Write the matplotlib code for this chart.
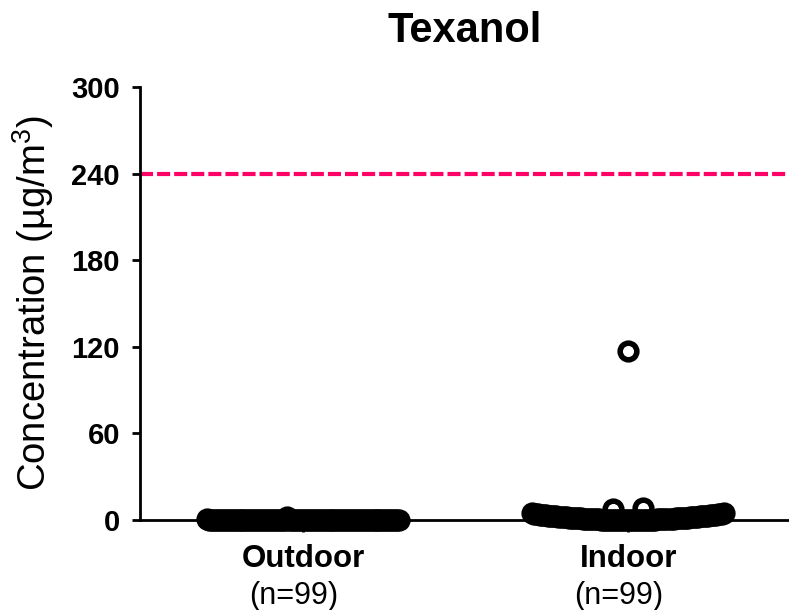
import numpy as np
import matplotlib
matplotlib.use('Agg')
import matplotlib.pyplot as plt

plt.rcParams['font.family'] = ['Liberation Sans', 'DejaVu Sans']
plt.rcParams['mathtext.fontset'] = 'custom'
plt.rcParams['mathtext.rm'] = 'Liberation Sans'
plt.rcParams['lines.scale_dashes'] = False

# data (ug/m3)
groups = ['Outdoor', 'Indoor']
counts = ['(n=99)', '(n=99)']
guideline = 240

outdoor = [0.0, 0.0, 0.0, 0.0, 0.0, 0.0, 0.0, 0.0, 0.0, 0.0,
           0.0, 0.0, 0.0, 0.0, 0.0, 2.0, 0.0, 0.0, 0.0, 0.0,
           0.0, 0.0, 0.0, 0.0, 0.0, 0.0, 0.3, 0.0, 0.0, 0.0,
           0.0, 0.0, 0.0, 0.0, 0.0, 0.0, 0.0, 0.0, 0.0, 0.0,
           0.0, 0.0, 0.0, 0.0, 0.0, 0.0, 0.0, 0.0, 0.0, 0.0,
           0.0, 0.0, 0.0, 0.0, 0.0, 0.0, 0.0, 0.0, 0.0, 0.0,
           0.0, 0.0, 0.0, 0.0, 0.0, 0.0, 0.0, 0.0, 0.0, 0.0,
           0.0, 0.0, 0.0, 0.0, 0.0, 0.0, 0.0, 0.0, 0.0, 0.0,
           0.0, 0.0, 0.0, 0.0, 0.0, 0.0, 0.0, 0.0, 0.0, 0.0,
           0.0, 0.0, 0.0, 0.0, 0.0, 0.3, 0.0, 0.4, 0.3]

indoor = [0.0, 0.0, 0.0, 0.0, 0.0, 0.0, 0.0, 0.0, 0.0, 0.0,
          0.1, 0.1, 0.1, 0.1, 0.1, 0.1, 0.1, 0.1, 0.2, 0.2,
          0.2, 0.2, 0.3, 0.3, 0.3, 0.3, 0.3, 0.3, 0.4, 0.4,
          0.5, 0.5, 0.5, 0.5, 0.6, 0.6, 0.7, 0.7, 0.7, 0.7,
          0.8, 0.8, 0.9, 0.9, 1.0, 1.0, 1.1, 1.1, 1.2, 1.2,
          1.3, 1.3, 1.4, 1.4, 1.5, 1.5, 1.6, 1.6, 1.7, 1.7,
          1.8, 1.8, 2.0, 2.0, 2.1, 2.1, 2.2, 2.2, 2.4, 2.4,
          2.5, 2.5, 2.6, 2.6, 2.8, 2.8, 2.9, 2.9, 3.1, 3.1,
          3.2, 3.2, 3.4, 3.4, 3.6, 3.6, 3.7, 3.7, 3.9, 3.9,
          4.1, 4.1, 4.3, 4.3, 4.6, 4.6, 7.8, 8.1, 117.0]


def swarm_offsets(values, bin_size=6.0, half_width=0.295, max_step=0.092):
    # graphpad style: values in the same band are spread in a row,
    # first ones in the middle, later ones alternating outwards
    rows = {}
    for i, v in enumerate(values):
        rows.setdefault(int(v // bin_size), []).append(i)
    offsets = np.zeros(len(values))
    for idx in rows.values():
        n = len(idx)
        step = min(max_step, 2 * half_width / (n - 1)) if n > 1 else 0.0
        slots = (np.arange(n) - (n - 1) / 2) * step
        order = np.argsort(np.round(np.abs(slots), 9), kind='stable')
        offsets[np.array(idx)] = slots[order]
    return offsets


fig = plt.figure(figsize=(7.89, 6.10), dpi=100)
ax = fig.add_axes([140 / 789, 90 / 610, 649 / 789, 433 / 610])

for pos, vals in enumerate([outdoor, indoor]):
    vals = np.array(vals)
    xs = pos + swarm_offsets(vals)
    ax.plot(xs, vals, linestyle='none', marker='o', markersize=12,
            markerfacecolor='none', markeredgecolor='black',
            markeredgewidth=4, clip_on=False, zorder=3)

ax.axhline(guideline, color='#FF0066', linewidth=3, dashes=(9.4, 2.9),
           dash_capstyle='butt', zorder=2)

ax.set_xlim(-0.502, 1.495)
ax.set_ylim(0, 300)
ax.set_yticks([0, 60, 120, 180, 240, 300])
ax.set_xticks([0, 1])
ax.set_xticklabels(['', ''])

for side in ['top', 'right']:
    ax.spines[side].set_visible(False)
for side in ['left', 'bottom']:
    ax.spines[side].set_linewidth(2)

ax.tick_params(axis='y', length=6, width=2, pad=8.4, labelsize=21)
ax.tick_params(axis='x', length=8.5, width=2)
for lab in ax.get_yticklabels():
    lab.set_fontweight('bold')

trans = ax.get_xaxis_transform()
for pos, (g, n) in enumerate(zip(groups, counts)):
    ax.text(pos, (520 - 567) / 433, g, transform=trans, ha='center',
            va='baseline', fontsize=22.5, fontweight='bold')
    ax.annotate(n, xy=(pos, (520 - 604) / 433), xycoords=trans,
                xytext=(-7, 0), textcoords='offset points',
                ha='center', va='baseline', fontsize=22)

ax.set_ylabel(r'Concentration (µg/m$^3$)', fontsize=27.5)
ax.yaxis.set_label_coords(-0.13, 0.5)

fig.text(465 / 789, 1 - 42 / 610, 'Texanol', ha='center', va='baseline',
         fontsize=30, fontweight='bold')

fig.savefig('out.png', dpi=100)
